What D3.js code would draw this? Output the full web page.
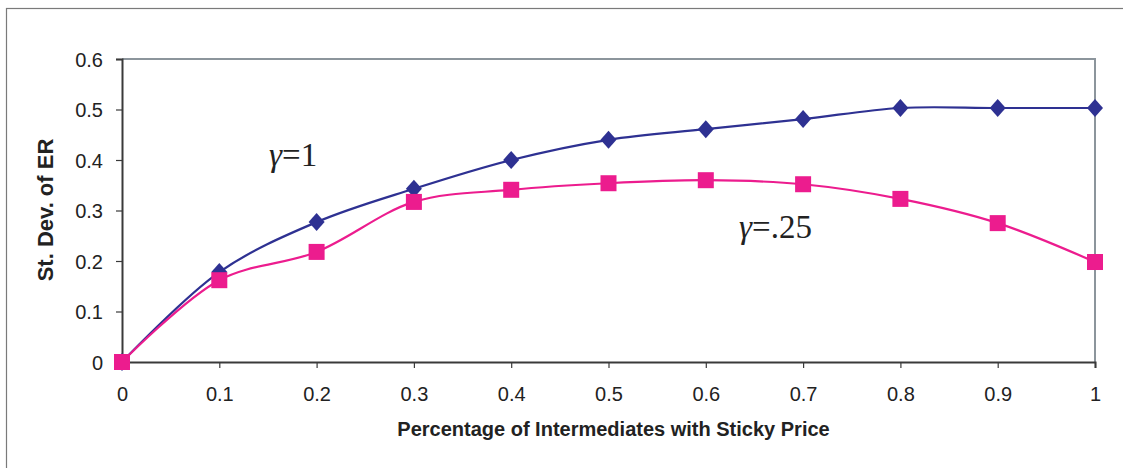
<!DOCTYPE html>
<html lang="en">
<head>
<meta charset="UTF-8">
<title>St. Dev. of ER</title>
<script src="https://d3js.org/d3.v7.min.js"></script>
<style>
  body { margin: 0; background: #fff; }
</style>
</head>
<body>
<svg id="chart" width="1123" height="468"></svg>
<script>
// data
var xValues = [0, 0.1, 0.2, 0.3, 0.4, 0.5, 0.6, 0.7, 0.8, 0.9, 1];
var gamma1 = [0, 0.178, 0.277, 0.343, 0.400, 0.440, 0.461, 0.481, 0.503, 0.503, 0.503];
var gamma025 = [0, 0.162, 0.218, 0.317, 0.341, 0.354, 0.360, 0.352, 0.323, 0.275, 0.198];
var yTicks = [0, 0.1, 0.2, 0.3, 0.4, 0.5, 0.6];
var xTicks = [0, 0.1, 0.2, 0.3, 0.4, 0.5, 0.6, 0.7, 0.8, 0.9, 1];

var svg = d3.select("#chart");
var pL = 122, pT = 59, pR = 1095, pB = 362;

// outer frame
svg.append("rect")
    .attr("x", 6.5).attr("y", 8.5)
    .attr("width", 1130).attr("height", 480)
    .attr("fill", "none").attr("stroke", "#7a7a7a").attr("stroke-width", 1.2);

var x = d3.scaleLinear().domain([0, 1]).range([pL, pR]);
var y = d3.scaleLinear().domain([0, 0.6]).range([pB, pT]);

// top / right plot border
svg.append("path")
    .attr("d", "M" + pL + "," + pT + "H" + pR + "V" + pB)
    .attr("fill", "none").attr("stroke", "#8c959c").attr("stroke-width", 2);

var yAxis = svg.append("g")
    .attr("transform", "translate(" + pL + ",0)")
    .call(d3.axisLeft(y).tickValues(yTicks).tickSize(6).tickPadding(13)
        .tickFormat(function (d) { return d === 0 ? "0" : d3.format(".1f")(d); }));

var xAxis = svg.append("g")
    .attr("transform", "translate(0," + pB + ")")
    .call(d3.axisBottom(x).tickValues(xTicks).tickSize(6).tickPadding(19)
        .tickFormat(function (d) { return (d === 0 || d === 1) ? String(d) : d3.format(".1f")(d); }));

[yAxis, xAxis].forEach(function (g) {
    g.attr("font-size", null).attr("font-family", null);
    g.select(".domain").attr("stroke", "#3a3a3a").attr("stroke-width", 2);
    g.selectAll(".tick line").attr("stroke", "#3a3a3a").attr("stroke-width", 1.2);
    g.selectAll("text")
        .style("font-family", "'Liberation Sans', Arial, sans-serif")
        .style("font-size", "20px").attr("fill", "#222");
});
yAxis.selectAll("text").attr("dy", "0.36em");

// axis titles
svg.append("text")
    .attr("x", (pL + pR) / 2 + 5).attr("y", 436)
    .attr("text-anchor", "middle")
    .style("font-family", "'Liberation Sans', Arial, sans-serif")
    .style("font-weight", "bold").style("font-size", "20px").attr("fill", "#222")
    .text("Percentage of Intermediates with Sticky Price");

svg.append("text")
    .attr("transform", "translate(53,210) rotate(-90)")
    .attr("text-anchor", "middle")
    .style("font-family", "'Liberation Sans', Arial, sans-serif")
    .style("font-weight", "bold").style("font-size", "22px").attr("fill", "#222")
    .text("St. Dev. of ER");

var line = d3.line()
    .x(function (d) { return x(d[0]); })
    .y(function (d) { return y(d[1]); })
    .curve(d3.curveCatmullRom.alpha(0.5));

var blueData = xValues.map(function (v, i) { return [v, gamma1[i]]; });
var pinkData = xValues.map(function (v, i) { return [v, gamma025[i]]; });

svg.append("path").datum(blueData).attr("d", line)
    .attr("fill", "none").attr("stroke", "#2e3192").attr("stroke-width", 2.2);
svg.append("path").datum(pinkData).attr("d", line)
    .attr("fill", "none").attr("stroke", "#ec1c8e").attr("stroke-width", 2.2);

// diamonds
svg.selectAll(".dia").data(blueData).enter().append("path")
    .attr("class", "dia")
    .attr("transform", function (d) { return "translate(" + x(d[0]) + "," + y(d[1]) + ")"; })
    .attr("d", "M0,-9L8,0L0,9L-8,0Z")
    .attr("fill", "#2e3192");

// squares
svg.selectAll(".sq").data(pinkData).enter().append("rect")
    .attr("class", "sq")
    .attr("x", function (d) { return x(d[0]) - 8; })
    .attr("y", function (d) { return y(d[1]) - 8; })
    .attr("width", 16).attr("height", 16)
    .attr("fill", "#ec1c8e");

// annotations
function gammaLabel(tx, ty, rest) {
    var t = svg.append("text")
        .attr("x", tx).attr("y", ty)
        .style("font-family", "'Liberation Serif', 'Times New Roman', serif")
        .style("font-size", "33px").attr("fill", "#222");
    t.append("tspan").style("font-style", "italic").text("\u03b3");
    t.append("tspan").text(rest);
}
gammaLabel(269, 166, "=1");
gammaLabel(739, 238, "=.25");
</script>
</body>
</html>
